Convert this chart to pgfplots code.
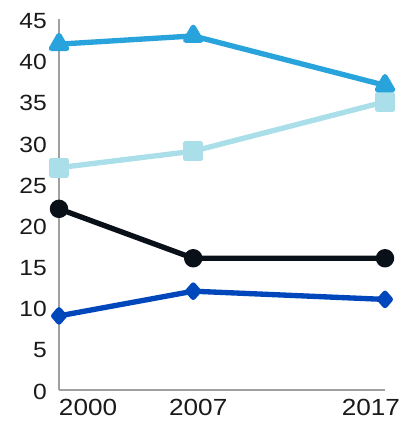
\documentclass[border=0pt]{standalone}
\usepackage{pgfplots}
\pgfplotsset{compat=1.18}
\usepackage{fontspec}
\setmainfont[FakeStretch=1.12]{Liberation Sans}

\definecolor{tribl}{HTML}{29A3DB}
\definecolor{sqbl}{HTML}{AADFEA}
\definecolor{blk}{HTML}{0A1018}
\definecolor{dmbl}{HTML}{0047BB}
\definecolor{axgray}{HTML}{A0A0A0}
\definecolor{txt}{HTML}{1A1A1A}

\begin{document}
\begin{tikzpicture}
\begin{axis}[
  scale only axis,
  width=244.5pt, height=277.9pt,
  xmin=2000, xmax=2017,
  ymin=0, ymax=45,
  axis x line*=bottom, axis y line*=left,
  axis line style={axgray, line width=0.9pt},
  major tick length=0pt,
  xtick={2000,2007,2017},
  xticklabels={\makebox[0pt][l]{2000}, \hspace*{7.5pt}2007, \makebox[0pt][r]{2017\hspace*{-11.25pt}}},
  ytick={0,5,...,45},
  /pgf/number format/assume math mode=true,
  tick label style={font=\fontsize{16.5}{17}\selectfont, text=txt, inner sep=0pt},
  yticklabel style={anchor=east, xshift=-9pt, yshift=-1.2pt},
  xticklabel style={anchor=north, yshift=-6.5pt, font=\fontsize{17.5}{18}\selectfont},
  clip=false,
  every axis plot/.append style={line width=4pt, line join=round},
]
\addplot[color=sqbl, mark=square*, mark size=5.6pt, mark options={solid}]
  coordinates {(2000,27)(2007,29)(2017,35)};
\addplot[color=tribl, mark=triangle*, mark size=6.5pt]
  coordinates {(2000,42)(2007,43)(2017,37)};
\addplot[color=blk, mark=*, mark size=4.9pt]
  coordinates {(2000,22)(2007,16)(2017,16)};
\addplot[color=dmbl, mark=diamond*, mark size=4.6pt, mark options={xscale=1.15}]
  coordinates {(2000,9)(2007,12)(2017,11)};
\end{axis}
\pgfresetboundingbox
\path[use as bounding box] (-44.25pt,-23.25pt) rectangle (264pt,292.5pt);
\end{tikzpicture}
\end{document}
